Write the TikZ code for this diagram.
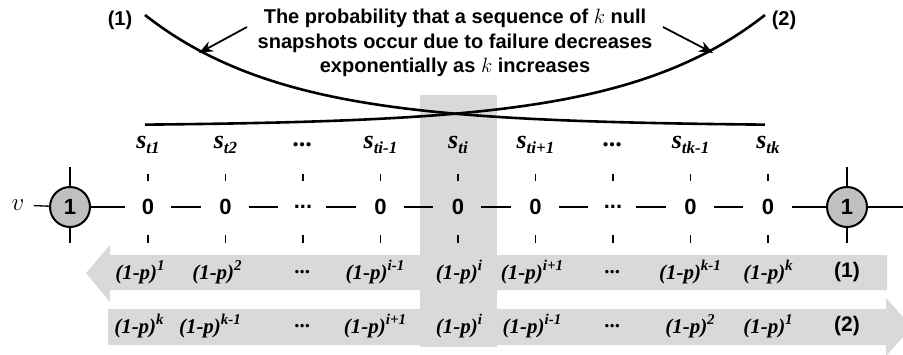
\documentclass[tikz,border=0pt]{standalone}
\usepackage{fontspec}
\setmainfont{Liberation Serif}
\setsansfont{Liberation Sans}
\usetikzlibrary{arrows.meta}
\definecolor{bandgray}{RGB}{217,217,217}
\definecolor{nodegray}{RGB}{192,192,192}
\newcommand{\sdots}{...}
\newcommand{\pw}[1]{(1-p)\raisebox{0.42em}{\fontsize{15}{15}\selectfont #1}}
\newcommand{\snp}[1]{s\raisebox{-0.22em}{\fontsize{17}{17}\selectfont #1}}
\tikzset{
  sans/.style={font=\sffamily\bfseries\fontsize{20}{24.5}\selectfont},
  prob/.style={font=\bfseries\itshape\fontsize{21}{22}\selectfont, inner sep=1pt},
  snap/.style={font=\bfseries\itshape\fontsize{26}{26}\selectfont, inner sep=1pt},
  endnode/.style={circle, draw, line width=2pt, fill=nodegray, minimum size=40pt, inner sep=0pt, font=\sffamily\bfseries\fontsize{22}{22}\selectfont},
  tick/.style={line width=1.4pt},
  wire/.style={line width=1.3pt},
  curve/.style={line width=2.6pt, domain=145:765, samples=90, smooth, variable=\x},
}
\begin{document}
\begin{tikzpicture}[x=1pt, y=-1pt]
\useasboundingbox (0,0) rectangle (903,354);
\fill[bandgray] (420,95) rectangle (497,347);
\fill[bandgray] (110,255) -- (887,255) -- (887,290) -- (110,290) -- (110,302) -- (86,273) -- (110,245) -- cycle;
\fill[bandgray] (108,309) -- (886,309) -- (886,298) -- (912,327) -- (886,356) -- (886,345) -- (108,345) -- cycle;

\draw[curve] plot (\x, {126-111*exp(-(\x-145)/141)});
\draw[curve] plot (\x, {126-111*exp(-(765-\x)/141)});

\node[sans, align=center] (note) at (455,43) {The probability that a sequence of $k$ null\\snapshots occur due to failure decreases\\exponentially as $k$ increases};
\node[sans] (lab1) at (120,20) {(1)};
\node[sans] (lab2) at (784,20) {(2)};
\coordinate (tail1) at (247,27);
\coordinate (tip1) at (199,53);
\coordinate (tail2) at (663,27);
\coordinate (tip2) at (713,53);
\draw[line width=1.8pt, -{Stealth[length=14pt,width=11pt]}] (tail1) -- (tip1);
\draw[line width=1.8pt, -{Stealth[length=14pt,width=11pt]}] (tail2) -- (tip2);

\foreach \t [count=\n] in {\snp{t1},\snp{t2},\sdots,\snp{ti-1},\snp{ti},\snp{ti+1},\sdots,\snp{tk-1},\snp{tk}}
  \node[snap] (s\n) at ({148+77.5*(\n-1)},145) {\t};

\foreach \t [count=\n] in {0,0,\sdots,0,0,0,\sdots,0,0}
  \node[sans, font=\sffamily\bfseries\fontsize{22}{22}\selectfont] (z\n) at ({148+77.5*(\n-1)},207) {\t};

\foreach \n [count=\m from 2] in {1,...,8}
  \draw[wire, shorten <=23pt, shorten >=25pt] (z\n.center) -- (z\m.center);

\foreach \n in {1,...,9} {
  \draw[tick] (z\n.center) ++(0,-26) -- ++(0,-7);
  \draw[tick] (z\n.center) ++(0,28) -- ++(0,8);
}

\node[font=\fontsize{24}{26}\selectfont] (v) at (18,205) {$v$};
\coordinate (edge) at (903,207);
\draw[wire, shorten <=6pt] (v) -- (70,207);
\draw[wire] (70,207) -- (z1.center) [shorten >=23pt];
\draw[wire] (70,167) -- (70,243);
\draw[wire, shorten <=24pt] (z9.center) -- (edge);
\draw[wire] (847,167) -- (847,243);
\node[endnode] (c1) at (70,207) {1};
\node[endnode] (c2) at (847,207) {1};

\foreach \x/\t [count=\n] in {140/\pw{1},217/\pw{2},303/\sdots,375/\pw{i-1},459/\pw{i},532/\pw{i+1},613/\sdots,690/\pw{k-1},768/\pw{k}}
  \node[prob] (ra\n) at (\x,272) {\t};
\node[sans, font=\sffamily\bfseries\fontsize{21}{22}\selectfont] (tag1) at (847,272) {(1)};

\foreach \x/\t [count=\n] in {139/\pw{k},210/\pw{k-1},303/\sdots,375/\pw{i+1},459/\pw{i},532/\pw{i-1},613/\sdots,690/\pw{2},768/\pw{1}}
  \node[prob] (rb\n) at (\x,326) {\t};
\node[sans, font=\sffamily\bfseries\fontsize{21}{22}\selectfont] (tag2) at (847,326) {(2)};
\end{tikzpicture}
\end{document}
